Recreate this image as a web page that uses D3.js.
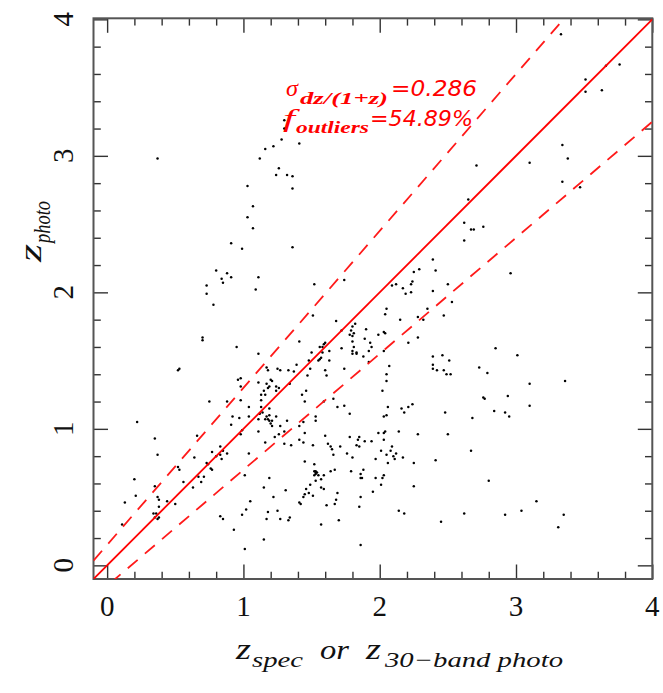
<!DOCTYPE html>
<html><head><meta charset="utf-8">
<script src="https://cdn.jsdelivr.net/npm/d3@7"></script>
<style>body{margin:0;background:#fff;} svg{display:block}</style>
</head><body><svg id="c" width="663" height="693"></svg>
<script>
// ---- data ----
const axisDomain = [-0.1, 4];
const majorTicks = [0, 1, 2, 3, 4];
const majorLabels = ["0", "1", "2", "3", "4"];
const sigmaValue = "0.286";
const outlierValue = "54.89%";
const outlierCut = 0.15;

const specA = [0.37,0.22,0.35,0.37,0.20,0.21,0.13,0.11,0.35,0.37,0.38,0.38,0.34,0.36,0.35,0.37,0.38,0.44,0.50,0.52,0.53,0.56,0.52,0.53,0.64,0.63,0.66,0.67];
const photoA = [2.98,1.05,0.93,0.81,0.63,0.51,0.46,0.30,0.58,0.50,0.48,0.43,0.38,0.38,0.35,0.34,0.35,0.47,0.45,0.72,0.70,0.61,1.43,1.44,0.79,0.57,0.95,0.65];

const specB = [1.30,1.30,1.41,1.28,1.22,1.16,1.12,1.26,1.24,1.32,1.36,1.36,1.03,1.07,1.03,1.07,0.91,0.99,1.36,0.80,0.84,0.88,0.91,1.11];
const photoB = [3.26,3.20,3.09,3.12,3.07,3.05,2.98,2.91,2.86,2.86,2.85,2.76,2.78,2.63,2.55,2.47,2.36,2.32,2.33,2.16,2.10,2.14,2.11,2.11];

const specC = [0.73,0.73,0.85,1.09,1.52,0.78,0.70,0.70,1.51,1.41, 0.95,1.11,1.50,1.60,1.59,1.58,1.56,1.58,1.63,1.55, 1.56,1.57,1.48,1.63,1.39,1.17,1.18,1.25,1.27,1.33, 1.37,1.49,1.60,1.47,1.61,0.96,0.98,1.11,1.20,1.21, 1.17,1.34,1.18,1.19,1.24,1.26,0.98,1.15,1.24,1.13, 1.16,1.46,1.43,0.75,0.88,0.98,1.13,1.45,1.59,1.04,1.13,1.19];
const photoC = [2.05,1.99,2.07,2.02,2.06,1.91,1.67,1.65,1.83,1.64, 1.60,1.55,1.56,1.63,1.62,1.60,1.60,1.56,1.57,1.50, 1.51,1.52,1.50,1.50,1.47,1.45,1.43,1.44,1.43,1.43, 1.42,1.44,1.43,1.39,1.39,1.36,1.37,1.34,1.36,1.35, 1.33,1.33,1.30,1.31,1.31,1.30,1.31,1.28,1.28,1.25, 1.25,1.28,1.25,1.20,1.20,1.21,1.21,1.20,1.20,1.16,1.16,1.15];

const specD = [1.74,2.09,2.12,2.17,2.19,2.23,2.24,2.23,2.39,2.50, 2.53,2.47,2.35,2.32,2.28,2.15,2.05,2.04,1.68,1.82, 1.80,1.79,1.72,1.78,1.80,1.81,1.90,1.99,2.03,2.04, 1.89,1.93,1.80,1.81,1.94,1.92,1.72,1.80,1.83,1.80, 1.83,1.88,2.03,2.21,2.28,1.92,1.74,2.07,2.05,2.05, 2.02,1.66,1.69,1.74,2.06,2.16,2.21,2.24,2.39,2.46, 2.51,2.39,2.39,2.42,2.47,2.49,2.52];
const photoD = [2.09,2.05,2.06,2.03,1.99,2.06,2.08,2.00,2.01,2.06, 1.93,1.83,1.88,1.80,1.82,1.80,1.88,1.84,1.79,1.77, 1.75,1.72,1.72,1.69,1.68,1.70,1.73,1.69,1.71,1.70, 1.66,1.63,1.64,1.60,1.60,1.57,1.59,1.57,1.56,1.55, 1.55,1.53,1.57,1.63,1.67,1.49,1.44,1.46,1.40,1.35, 1.28,1.22,1.16,1.17,1.16,1.15,1.16,1.18,1.53,1.54, 1.50,1.47,1.44,1.43,1.43,1.40,1.40];

const specE = [0.92,0.97,1.04,1.12,1.14,1.17,1.19,1.16,1.18,1.11, 1.19,1.21,1.20,1.24,1.32,1.27,0.91,1.21,1.11,1.30, 1.26,1.23,1.41,1.44,1.45,1.53,1.53,0.99,0.98,1.16, 1.30,1.35,1.41,1.44,1.51,1.60,1.62,0.83,0.77,0.85, 0.88,0.80,0.83,0.84,1.04,0.73,0.74,0.76,0.77,0.71, 0.69,1.01,1.19,1.45,1.52,1.52,1.53,1.53,1.54,1.53, 1.52,1.55,1.57,1.53,1.59,1.15,1.31,1.49,1.46,1.48, 1.45,1.44,1.51,1.57,1.59,1.41,1.42,1.22,1.05,1.02, 0.99,0.83,0.85,1.18,1.17,1.25,1.27,1.33,1.34,1.61, 1.57,0.93,1.15,1.01];
const photoE = [1.09,1.08,1.09,1.11,1.12,1.09,1.10,1.07,1.07,1.07, 1.06,1.06,1.04,1.09,1.06,1.02,1.03,1.02,0.98,0.98, 0.96,0.94,1.02,1.05,0.97,1.06,1.09,0.99,0.96,0.90, 0.89,0.88,0.92,0.90,0.88,0.95,0.89,0.87,0.83,0.84, 0.82,0.80,0.81,0.78,0.82,0.75,0.74,0.71,0.70,0.65, 0.61,0.66,0.64,0.76,0.74,0.69,0.68,0.69,0.68,0.67, 0.66,0.66,0.63,0.62,0.66,0.57,0.55,0.59,0.56,0.53, 0.52,0.50,0.51,0.57,0.56,0.46,0.45,0.50,0.47,0.41, 0.37,0.36,0.34,0.39,0.34,0.40,0.34,0.33,0.35,0.44, 0.30,0.26,0.19,0.12];

const specF = [1.78,2.03,2.05,2.18,2.48,1.99,2.03,2.04,2.14,2.28, 2.50,1.78,1.85,1.84,1.89,1.94,2.03,1.83,1.85,1.64, 1.71,1.65,2.09,2.01,2.08,2.12,1.76,1.66,1.80,2.05, 2.10,2.11,2.17,1.97,2.06,2.25,2.41,1.64,1.67,1.79, 1.88,1.86,1.86,1.87,1.97,2.03,2.02,2.01,1.95,2.25, 1.69,1.86,1.68,1.67,1.85,2.14,2.18,1.70,2.45,2.62, 1.86];
const photoF = [1.11,1.09,1.10,1.12,1.12,0.97,0.97,0.98,0.98,0.96, 0.96,0.94,0.94,0.92,0.91,0.91,0.92,0.88,0.87,0.87, 0.87,0.85,0.87,0.84,0.84,0.82,0.82,0.81,0.79,0.81, 0.80,0.78,0.79,0.78,0.75,0.75,0.77,0.69,0.70,0.69, 0.70,0.67,0.64,0.64,0.64,0.66,0.64,0.59,0.54,0.58, 0.53,0.50,0.48,0.45,0.43,0.40,0.38,0.33,0.32,0.38, 0.15];

const specG = [3.33,3.51,3.51,3.63,3.66,3.76,3.34,3.38,3.34,3.47, 3.10,2.71,2.65,2.62,2.67,2.69,2.76,2.62,2.39,2.41, 2.29,2.25,2.96];
const photoG = [3.89,3.56,3.47,3.48,3.66,3.67,3.08,2.98,2.81,2.77, 2.95,2.93,2.68,2.51,2.46,2.46,2.48,2.38,2.24,2.16, 2.17,2.15,2.14];

const specH = [2.85,3.01,2.73,2.79,3.10,3.36,2.76,2.77,2.94,2.84, 2.92,2.95,3.10,2.68,2.67,2.80,3.15,3.04,2.92,3.35, 3.31];
const photoH = [1.59,1.54,1.45,1.41,1.33,1.35,1.23,1.22,1.24,1.13, 1.12,1.09,1.17,1.08,0.84,0.62,0.47,0.40,0.37,0.37, 0.28];

// ---- build ----
const zSpec = [].concat(specA, specB, specC, specD, specE, specF, specG, specH);
const zPhoto = [].concat(photoA, photoB, photoC, photoD, photoE, photoF, photoG, photoH);
const points = zSpec.map((v, i) => ({x: v, y: zPhoto[i]}));

const svg = d3.select('#c');
const x = d3.scaleLinear().domain(axisDomain).range([93.5, 652.3]);
const y = d3.scaleLinear().domain(axisDomain).range([579, 19.35]);
const X0 = x.range()[0], X1 = x.range()[1], Y0 = y.range()[0], Y1 = 18.3;

const minorTicks = d3.range(0.2, 4, 0.2).filter(v => Math.abs(v - Math.round(v)) > 1e-6);

svg.append('defs').append('clipPath').attr('id', 'clip')
  .append('rect').attr('x', X0).attr('y', Y1).attr('width', X1 - X0).attr('height', Y0 - Y1);

// ticks
function addAxis(axisFn, scale, tx, ty) {
  const maj = svg.append('g').attr('transform', `translate(${tx},${ty})`)
    .call(axisFn(scale).tickValues(majorTicks).tickSizeInner(-14.5).tickSizeOuter(0).tickFormat(''));
  const min = svg.append('g').attr('transform', `translate(${tx},${ty})`)
    .call(axisFn(scale).tickValues(minorTicks).tickSizeInner(-7.3).tickSizeOuter(0).tickFormat(''));
  [maj, min].forEach(g => {
    g.select('.domain').remove();
    g.selectAll('.tick line').attr('stroke', '#333').attr('stroke-width', 1.4);
  });
}
addAxis(d3.axisBottom, x, 0, Y0);
addAxis(d3.axisTop, x, 0, Y1);
addAxis(d3.axisLeft, y, X0, 0);
addAxis(d3.axisRight, y, X1, 0);

// frame
svg.append('rect').attr('x', X0).attr('y', Y1).attr('width', X1 - X0).attr('height', Y0 - Y1)
  .attr('fill', 'none').attr('stroke', '#555').attr('stroke-width', 2);

// points
const plot = svg.append('g').attr('clip-path', 'url(#clip)');
plot.selectAll('circle.pt').data(points).join('circle').attr('class', 'pt')
  .attr('cx', d => x(d.x)).attr('cy', d => y(d.y)).attr('r', 1.25).attr('fill', '#000');

// reference lines
const lineGen = d3.line().x(d => x(d[0])).y(d => y(d[1]));
const ends = axisDomain;
plot.append('path').datum(ends.map(v => [v, v])).attr('d', lineGen)
  .attr('stroke', '#ff0000').attr('stroke-width', 1.8).attr('fill', 'none');
[1, -1].forEach(s => {
  plot.append('path').datum(ends.map(v => [v, v + s * outlierCut * (1 + v)])).attr('d', lineGen)
    .attr('stroke', '#ff1a1a').attr('stroke-width', 1.8).attr('fill', 'none')
    .attr('stroke-dasharray', '13,9.5');
});

// tick labels
const serif = '"Liberation Serif", "DejaVu Serif", serif';
svg.selectAll('text.xl').data(majorTicks).join('text').attr('class', 'xl')
  .attr('x', d => x(d)).attr('y', 616).attr('text-anchor', 'middle')
  .attr('font-family', serif).attr('font-size', 29).attr('fill', '#111')
  .text((d, i) => majorLabels[i]);
svg.selectAll('text.yl').data(majorTicks).join('text').attr('class', 'yl')
  .attr('transform', d => `translate(73,${y(d)}) rotate(-90)`).attr('text-anchor', 'middle')
  .attr('font-family', serif).attr('font-size', 29).attr('fill', '#111')
  .text((d, i) => majorLabels[i]);

// axis titles
function piece(txt, px, py, size, len, opts = {}) {
  const t = svg.append('text').attr('x', px).attr('y', py).attr('font-size', size)
    .attr('font-family', opts.family || serif).attr('font-style', 'italic')
    .attr('font-weight', opts.weight || 'normal').attr('fill', opts.fill || '#111').text(txt);
  if (len) t.attr('textLength', len).attr('lengthAdjust', 'spacingAndGlyphs');
  if (opts.transform) t.attr('transform', opts.transform);
  return t;
}
piece('z', 236, 659, 30, 15);
piece('spec', 252, 667, 21, 51);
piece('or', 320, 659, 28, 29);
piece('z', 366, 659, 30, 15);
piece('30\u2212band photo', 385, 667, 21, 178);

// y title (rotated)
const yt = svg.append('g').attr('transform', 'translate(41,262) rotate(-90)');
yt.append('text').attr('x', 0).attr('y', 0).attr('font-size', 32).attr('font-family', serif)
  .attr('font-style', 'italic').attr('fill', '#111').attr('textLength', 18).attr('lengthAdjust', 'spacingAndGlyphs').text('z');
yt.append('text').attr('x', 19).attr('y', 9).attr('font-size', 23).attr('font-family', serif)
  .attr('font-style', 'italic').attr('fill', '#111').attr('textLength', 42).attr('lengthAdjust', 'spacingAndGlyphs').text('photo');

// annotation
const red = '#ff0000';
const sans = '"DejaVu Sans", sans-serif';
piece('\u03C3', 286, 96, 23, 12, {fill: red});
piece('dz/(1+z)', 300, 104, 16, 88, {fill: red, weight: 'bold'});
piece('=' + sigmaValue, 391, 96, 21, 86, {fill: red, family: sans});
piece('f', 283, 127, 25, 12, {fill: red});
piece('outliers', 296, 133, 16, 73, {fill: red, weight: 'bold'});
piece('=' + outlierValue, 370, 126, 21, 103, {fill: red, family: sans});
</script></body></html>
